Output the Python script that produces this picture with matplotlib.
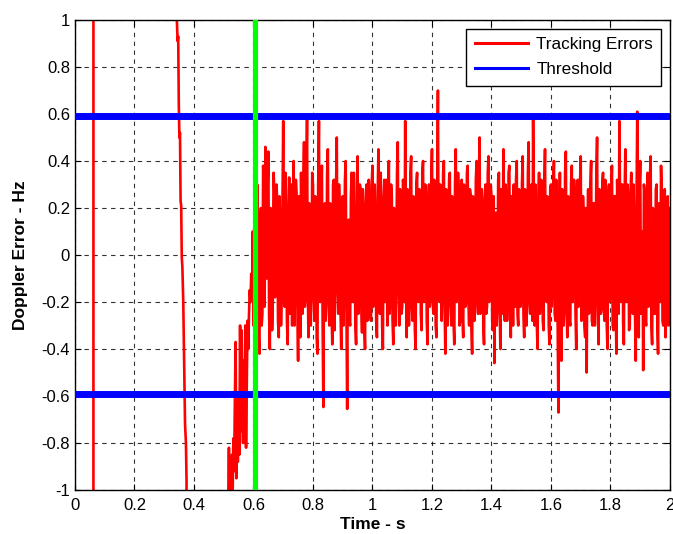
import numpy as np
import matplotlib.pyplot as plt

# transient part of the tracking error (values off the axes are clipped)
t_start = [0.0, 0.062, 0.0621, 0.342, 0.3425, 0.345, 0.347, 0.349, 0.351, 0.353,
           0.355, 0.357, 0.359, 0.361, 0.364, 0.367, 0.370, 0.373, 0.375, 0.378,
           0.515]
e_start = [-3.0, -3.0, 3.0, 3.0, 1.0, 0.91, 0.93, 0.64, 0.50, 0.52,
           0.23, 0.21, -0.01, -0.05, -0.20, -0.46, -0.72, -0.80, -0.96, -3.0,
           -3.0]

# noisy rise before the lock-in (0.515 .. 0.5975, step 2.5 ms)
e_rise = [-1.05, -0.82, -1.10, -0.88, -0.98, -0.85, -1.02, -0.78, -0.92, -0.62,
          -0.37, -0.95, -0.70, -0.88, -0.60, -0.85, -0.30, -0.75, -0.32, -0.62,
          -0.80, -0.45, -0.68, -0.30, -0.82, -0.55, -0.28, -0.40, -0.25, -0.15,
          -0.20, -0.08, -0.18, 0.10]

# tracking error after lock-in, samples at 0.600, 0.605, ... 2.000
e_track = [
    -0.30, 0.25, -0.28, 0.05, -0.42, 0.20, -0.25, 0.30, 0.46, -0.10, 0.44, -0.40, 0.15, -0.20, 0.28, -0.05, 0.22, -0.35, 0.10, -0.15,
    0.57, -0.22, 0.18, -0.38, 0.33, 0.05, -0.30, 0.40, -0.12, 0.25, -0.45, 0.12, 0.35, -0.25, 0.48, -0.18, 0.575, -0.35, 0.20, -0.10,
    0.30, -0.28, 0.15, -0.42, 0.57, -0.20, 0.38, -0.647, 0.22, -0.15, 0.45, -0.30, 0.10, -0.38, 0.32, -0.05, 0.50, -0.25, 0.18, -0.40,
    0.25, -0.12, 0.40, -0.655, 0.15, -0.30, 0.35, -0.20, 0.05, -0.38, 0.42, -0.10, 0.28, -0.33, 0.12, -0.40, 0.30, -0.18, 0.22, -0.28,
    0.38, -0.15, 0.10, -0.35, 0.45, -0.25, 0.20, -0.40, 0.32, 0.02, -0.30, 0.40, -0.18, 0.25, -0.38, 0.15, -0.08, 0.48, -0.30, 0.12,
    -0.22, 0.30, 0.57, -0.35, 0.18, -0.12, 0.42, -0.28, 0.08, -0.40, 0.35, -0.20, 0.25, -0.32, 0.40, -0.05, 0.20, -0.38, 0.30, -0.15,
    0.45, -0.25, 0.15, -0.35, 0.70, -0.20, 0.28, -0.10, 0.40, -0.42, 0.20, -0.18, 0.35, -0.30, 0.12, -0.38, 0.45, -0.08, 0.25, -0.28,
    0.32, -0.35, 0.10, -0.20, 0.38, -0.30, 0.25, -0.42, 0.15, -0.05, 0.40, -0.25, 0.50, -0.15, 0.20, -0.38, 0.30, -0.22, 0.42, -0.10,
    0.25, -0.32, -0.46, 0.18, -0.20, 0.35, -0.40, 0.12, 0.45, -0.28, 0.22, -0.15, 0.38, -0.35, 0.05, 0.30, -0.22, 0.40, -0.30, 0.15,
    -0.18, 0.42, -0.35, 0.20, -0.10, 0.48, -0.25, 0.30, 0.575, -0.30, 0.15, -0.40, 0.35, -0.15, 0.25, -0.32, 0.45, -0.20, 0.10, -0.38,
    0.30, -0.12, 0.40, -0.28, 0.20, -0.67, 0.35, -0.45, 0.18, -0.22, 0.44, -0.35, 0.10, -0.30, 0.38, -0.15, 0.25, -0.40, 0.32, -0.08,
    0.42, -0.25, 0.15, -0.35, -0.50, 0.28, -0.18, 0.40, -0.30, 0.22, -0.10, 0.50, -0.38, 0.12, -0.22, 0.35, -0.28, 0.20, -0.40, 0.30,
    -0.15, 0.38, -0.32, 0.25, -0.42, 0.15, 0.57, -0.20, 0.30, -0.38, 0.45, -0.12, 0.20, -0.30, 0.35, -0.25, 0.10, -0.45, 0.61, -0.35,
    0.40, -0.20, -0.49, 0.25, -0.30, 0.35, -0.15, 0.42, -0.38, 0.18, -0.25, 0.30, -0.42, 0.10, 0.38, -0.28, 0.22, -0.35, 0.15, -0.30,
    0.20,
]

# in-between samples at 0.6025, 0.6075, ... 1.9975
e_track_mid = [
    0.10, -0.15, 0.30, -0.35, 0.12, -0.30, 0.38, -0.22, 0.05, 0.28, -0.25, 0.20, -0.32, 0.35, -0.18, 0.30, -0.28, 0.25, -0.30, 0.22,
    -0.20, 0.35, -0.28, 0.15, -0.25, 0.30, 0.18, -0.30, 0.32, -0.20, 0.25, -0.35, 0.10, 0.28, -0.22, 0.30, -0.15, 0.22, -0.30, 0.35,
    -0.18, 0.25, -0.35, 0.30, -0.10, 0.28, -0.30, 0.15, -0.28, 0.35, -0.20, 0.22, -0.25, 0.30, -0.32, 0.28, -0.15, 0.30, -0.22, 0.18,
    -0.30, 0.32, -0.22, 0.10, -0.28, 0.25, -0.18, 0.35, -0.30, 0.20, -0.25, 0.30, -0.20, 0.28, -0.30, 0.22, -0.28, 0.32, -0.25, 0.30,
    -0.22, 0.30, -0.28, 0.25, -0.18, 0.35, -0.30, 0.22, -0.20, 0.32, 0.15, -0.25, 0.30, -0.28, 0.20, -0.30, 0.35, -0.15, 0.28, -0.25,
    0.32, -0.20, -0.10, 0.28, -0.30, 0.35, -0.22, 0.25, -0.32, 0.30, -0.18, 0.28, -0.25, 0.35, -0.20, 0.30, -0.28, 0.22, -0.22, 0.30,
    -0.20, 0.32, -0.30, 0.25, -0.15, 0.30, -0.28, 0.35, -0.22, 0.28, -0.30, 0.32, -0.18, 0.25, -0.28, 0.30, -0.20, 0.35, -0.30, 0.22,
    -0.25, 0.30, -0.22, 0.35, -0.18, 0.28, -0.30, 0.25, -0.28, 0.32, -0.20, 0.30, -0.25, 0.28, -0.30, 0.22, -0.25, 0.35, -0.20, 0.30,
    -0.28, 0.25, 0.10, -0.30, 0.32, -0.22, 0.28, -0.25, -0.15, 0.30, -0.28, 0.35, -0.20, 0.25, -0.30, -0.10, 0.32, -0.25, 0.28, -0.22,
    0.30, -0.25, 0.28, -0.30, 0.35, -0.20, 0.25, -0.28, 0.20, 0.30, -0.30, 0.22, -0.25, 0.32, -0.28, 0.30, -0.18, 0.25, -0.30, 0.28,
    -0.22, 0.30, -0.25, 0.32, -0.30, 0.10, -0.20, 0.28, -0.30, 0.35, -0.22, 0.25, -0.28, 0.30, -0.20, 0.32, -0.25, 0.28, -0.22, 0.30,
    -0.28, 0.25, -0.30, 0.20, 0.05, -0.25, 0.30, -0.28, 0.22, -0.30, 0.35, -0.20, 0.28, -0.25, 0.30, -0.22, 0.32, -0.30, 0.25, -0.20,
    0.28, -0.30, 0.25, -0.22, 0.32, -0.25, 0.20, 0.30, -0.28, 0.25, -0.20, 0.30, -0.32, 0.28, -0.22, 0.30, -0.25, 0.20, 0.10, 0.28,
    -0.25, 0.10, 0.30, -0.28, 0.25, -0.22, 0.32, -0.30, 0.20, -0.25, 0.28, -0.30, 0.22, -0.20, 0.25, -0.30, 0.28, -0.22, 0.25, -0.10,
]

threshold = 0.59
lock_time = 0.605

# interleave the two sample sets of the locked part
n = len(e_track)
e_lock = np.empty(2 * n - 1)
e_lock[0::2] = e_track
e_lock[1::2] = e_track_mid
t_lock = 0.6 + 0.0025 * np.arange(len(e_lock))
t_rise = 0.515 + 0.0025 * np.arange(len(e_rise))

t = np.concatenate([t_start, t_rise, t_lock])
err = np.concatenate([e_start, e_rise, e_lock])

plt.rcParams['font.family'] = ['Liberation Sans', 'DejaVu Sans']

fig = plt.figure(figsize=(6.73, 5.34), dpi=100)
ax = fig.add_axes([0.1114, 0.0824, 0.8841, 0.8801])

ax.plot(t, err, color='red', lw=1.9, label='Tracking Errors', zorder=2)
ax.axhline(threshold, color='blue', lw=5, label='Threshold', zorder=3)
ax.axhline(-threshold, color='blue', lw=5, zorder=3)
ax.axvline(lock_time, color='#00ff00', lw=3.7, zorder=4)

ax.set_xlim(0, 2)
ax.set_ylim(-1, 1)
ax.set_xticks(np.arange(0, 2.01, 0.2))
ax.set_xticklabels(['0', '0.2', '0.4', '0.6', '0.8', '1', '1.2', '1.4', '1.6', '1.8', '2'])
ax.set_yticks(np.arange(-1, 1.01, 0.2))
ax.set_yticklabels(['-1', '-0.8', '-0.6', '-0.4', '-0.2', '0', '0.2', '0.4', '0.6', '0.8', '1'])
ax.tick_params(direction='in', labelsize=12, length=4, top=True, right=True)
ax.tick_params(axis='x', pad=6)
ax.grid(True, color='black', linestyle=(0, (4, 4)), lw=0.8, alpha=0.8)
for s in ax.spines.values():
    s.set_linewidth(1.0)

ax.set_xlabel('Time - s', fontsize=12.5, fontweight='bold', labelpad=3)
ax.set_ylabel('Doppler Error - Hz', fontsize=12.5, fontweight='bold', labelpad=10)

leg = ax.legend(loc='upper right', fontsize=12.3, fancybox=False, framealpha=1,
                edgecolor='black', borderaxespad=0.5, handlelength=3.1,
                handletextpad=0.5, labelspacing=0.6, borderpad=0.5)
leg.get_frame().set_linewidth(1.0)
for line in leg.get_lines():
    line.set_linewidth(2.2)

fig.savefig('out.png', dpi=100)
